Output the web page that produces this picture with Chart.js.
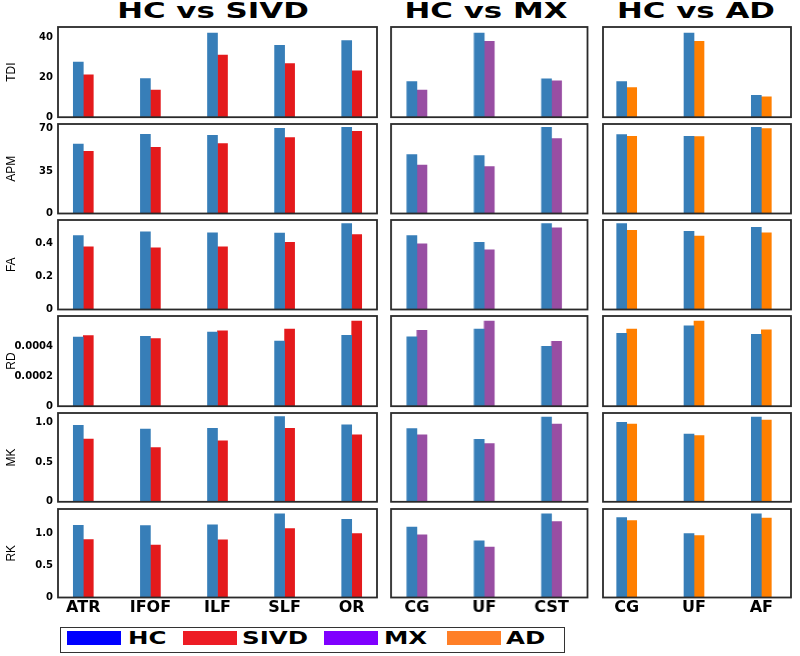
<!DOCTYPE html>
<html><head><meta charset="utf-8">
<script src="https://cdn.jsdelivr.net/npm/chart.js@4.4.1/dist/chart.umd.min.js"></script>
<style>
html,body{margin:0;padding:0;background:#fff}
body{width:800px;height:656px;position:relative;overflow:hidden}
.panel{position:absolute}
.title{position:absolute;top:0;width:300px;margin-left:-150px;text-align:center;font-family:"DejaVu Sans",sans-serif;font-weight:bold;font-size:21px;line-height:23px;color:#000;transform:scaleX(1.47);transform-origin:center}
#legend{position:absolute;left:60px;top:627px;width:505px;height:26px;border:1.5px solid #333;box-sizing:border-box}
.sw{position:absolute;top:3px;height:14px}
.lt{position:absolute;top:-1px;font-family:"DejaVu Sans",sans-serif;font-weight:bold;font-size:18px;line-height:22px;color:#000;transform:scaleX(1.36);transform-origin:left center;white-space:nowrap}
</style></head><body>
<div id="root"></div>
<script>
// ---------- data ----------
const sivdCats = ['ATR','IFOF','ILF','SLF','OR'];
const mxCats = ['CG','UF','CST'];
const adCats = ['CG','UF','AF'];
const metrics = ['TDI','APM','FA','RD','MK','RK'];
const groupTitles = ['HC vs SIVD','HC vs MX','HC vs AD'];
const seriesNames = ['HC','SIVD','MX','AD'];

// TDI
const hcSivdTDI = [27.5, 19.3, 42.0, 35.9, 38.2];
const sivdTDI   = [21.1, 13.5, 31.0, 26.7, 23.1];
const hcMxTDI   = [17.8, 42.0, 19.1];
const mxTDI     = [13.5, 37.9, 18.1];
const hcAdTDI   = [17.8, 42.0, 10.9];
const adTDI     = [14.8, 37.9, 10.2];
// APM
const hcSivdAPM = [57.5, 65.5, 64.7, 70.5, 71.3];
const sivdAPM   = [51.3, 54.7, 57.8, 62.8, 68.0];
const hcMxAPM   = [48.8, 47.8, 71.3];
const mxAPM     = [40.0, 38.8, 61.9];
const hcAdAPM   = [65.3, 63.8, 71.3];
const adAPM     = [63.8, 63.6, 70.3];
// FA
const hcSivdFA = [0.447, 0.470, 0.465, 0.463, 0.520];
const sivdFA   = [0.380, 0.374, 0.380, 0.407, 0.453];
const hcMxFA   = [0.447, 0.407, 0.520];
const mxFA     = [0.398, 0.362, 0.494];
const hcAdFA   = [0.520, 0.474, 0.498];
const adFA     = [0.480, 0.445, 0.465];
// RD
const hcSivdRD = [0.000460, 0.000465, 0.000493, 0.000434, 0.000471];
const sivdRD   = [0.000469, 0.000449, 0.000502, 0.000513, 0.000566];
const hcMxRD   = [0.000462, 0.000513, 0.000399];
const mxRD     = [0.000504, 0.000566, 0.000432];
const hcAdRD   = [0.000484, 0.000535, 0.000478];
const adRD     = [0.000513, 0.000566, 0.000508];
// MK
const hcSivdMK = [0.960, 0.913, 0.922, 1.069, 0.968];
const sivdMK   = [0.787, 0.682, 0.766, 0.922, 0.842];
const hcMxMK   = [0.918, 0.783, 1.064];
const mxMK     = [0.842, 0.732, 0.976];
const hcAdMK   = [0.997, 0.850, 1.064];
const adMK     = [0.976, 0.830, 1.026];
// RK
const hcSivdRK = [1.127, 1.122, 1.132, 1.303, 1.220];
const sivdRK   = [0.905, 0.817, 0.900, 1.076, 0.998];
const hcMxRK   = [1.100, 0.884, 1.303];
const mxRK     = [0.977, 0.786, 1.184];
const hcAdRK   = [1.246, 0.998, 1.303];
const adRK     = [1.200, 0.967, 1.240];

// y tick values / labels per metric
const tdiTicks = [0, 20, 40];        const tdiTickLabels = ['0','20','40'];
const apmTicks = [0, 35, 70];        const apmTickLabels = ['0','35','70'];
const faTicks  = [0, 0.2, 0.4];      const faTickLabels  = ['0','0.2','0.4'];
const rdTicks  = [0, 0.0002, 0.0004];const rdTickLabels  = ['0','0.0002','0.0004'];
const mkTicks  = [0, 0.5, 1.0];      const mkTickLabels  = ['0','0.5','1.0'];
const rkTicks  = [0, 0.5, 1.0];      const rkTickLabels  = ['0','0.5','1.0'];

// ---------- styling / layout ----------
const barColors = {HC:'#377EB8', SIVD:'#E41A1C', MX:'#984EA3', AD:'#FF7F00'};
const legendColors = {HC:'#0000FF', SIVD:'#ED1C24', MX:'#7F00FF', AD:'#FF7F27'};

const table = [
  [[hcSivdTDI, sivdTDI],[hcMxTDI, mxTDI],[hcAdTDI, adTDI]],
  [[hcSivdAPM, sivdAPM],[hcMxAPM, mxAPM],[hcAdAPM, adAPM]],
  [[hcSivdFA, sivdFA],[hcMxFA, mxFA],[hcAdFA, adFA]],
  [[hcSivdRD, sivdRD],[hcMxRD, mxRD],[hcAdRD, adRD]],
  [[hcSivdMK, sivdMK],[hcMxMK, mxMK],[hcAdMK, adMK]],
  [[hcSivdRK, sivdRK],[hcMxRK, mxRK],[hcAdRK, adRK]]
];
const tickTable = [[tdiTicks,tdiTickLabels],[apmTicks,apmTickLabels],[faTicks,faTickLabels],
                   [rdTicks,rdTickLabels],[mkTicks,mkTickLabels],[rkTicks,rkTickLabels]];
const colCats = [sivdCats, mxCats, adCats];
const colGroup = ['SIVD','MX','AD'];

const rowLayout = [
  {top:26.5, bottom:116.7, max:45},
  {top:123.5, bottom:213, max:74},
  {top:219.5, bottom:309, max:0.542},
  {top:315.5, bottom:405.7, max:0.0006},
  {top:412.7, bottom:501.5, max:1.115},
  {top:508.5, bottom:597, max:1.38}
];
const colLayout = [
  {left:58, right:377, min:0.623, max:5.377, titleX:213},
  {left:391, right:586.5, min:0.616, max:3.534, titleX:486},
  {left:603, right:791, min:0.648, max:3.441, titleX:696}
];

const framePlugin = {
  id:'frame',
  afterDatasetsDraw(chart){
    const {ctx, chartArea:a} = chart;
    ctx.save();
    ctx.strokeStyle = '#2a2a2a';
    ctx.lineWidth = 1.8;
    ctx.strokeRect(a.left, a.top, a.right - a.left, a.bottom - a.top);
    ctx.restore();
  }
};

const root = document.getElementById('root');

function makePanel(r, c){
  const col = colLayout[c], row = rowLayout[r];
  const isLeft = c === 0, isBottom = r === rowLayout.length - 1;
  const axisW = 58, axisH = 24;
  const padL = isLeft ? 0 : 3, padR = 3, padT = 3, padB = isBottom ? 0 : 3;
  const left = isLeft ? 0 : col.left - padL;
  const top = row.top - padT;
  const width = col.right + padR - left;
  const height = (row.bottom - row.top) + padT + (isBottom ? axisH : padB);
  const div = document.createElement('div');
  div.className = 'panel';
  div.style.left = left + 'px'; div.style.top = top + 'px';
  div.style.width = width + 'px'; div.style.height = height + 'px';
  const cv = document.createElement('canvas');
  div.appendChild(cv); root.appendChild(div);

  const cats = colCats[c];
  const [hcVals, grpVals] = table[r][c];
  const [tVals, tLabels] = tickTable[r];
  const grp = colGroup[c];

  new Chart(cv, {
    type:'bar',
    data:{datasets:[
      {label:'HC', data: hcVals.map((v,i)=>({x:i+1, y:v})), backgroundColor: barColors.HC, barThickness:10, borderWidth:0},
      {label:grp, data: grpVals.map((v,i)=>({x:i+1, y:v})), backgroundColor: barColors[grp], barThickness:10, borderWidth:0}
    ]},
    options:{
      responsive:true, maintainAspectRatio:false, animation:false,
      layout:{padding:{left:padL, right:padR, top:padT, bottom:padB}},
      plugins:{legend:{display:false}, tooltip:{enabled:false}, title:{display:false}},
      scales:{
        x:{
          type:'linear', offset:false, min:col.min, max:col.max, display:isBottom,
          grid:{display:false, drawTicks:false, offset:false}, border:{display:false},
          afterBuildTicks:(s)=>{ s.ticks = cats.map((_,i)=>({value:i+1})); },
          afterFit:(s)=>{ s.height = isBottom ? axisH : 0; s.paddingLeft = 0; s.paddingRight = 0; },
          ticks:{autoSkip:false, maxRotation:0, minRotation:0, padding:1, color:'#000',
                 font:{family:'"DejaVu Sans", sans-serif', weight:'bold', size:16},
                 callback:(v,i)=>cats[i]}
        },
        y:{
          min:0, max:row.max, display:isLeft,
          grid:{display:false, drawTicks:false}, border:{display:false},
          afterBuildTicks:(s)=>{ s.ticks = tVals.map(v=>({value:v})); },
          afterFit:(s)=>{ s.width = isLeft ? axisW : 0; s.paddingTop = 0; s.paddingBottom = 0; },
          ticks:{padding:5, color:'#000',
                 font:{family:'"DejaVu Sans", sans-serif', weight:'bold', size:10},
                 callback:(v,i)=>tLabels[i]},
          title:{display:true, text:metrics[r], color:'#000',
                 font:{family:'"Liberation Sans Narrow", "Liberation Sans", sans-serif', size:12},
                 padding:{top:4, bottom:0}}
        }
      }
    },
    plugins:[framePlugin]
  });
}

for (let r = 0; r < rowLayout.length; r++)
  for (let c = 0; c < colLayout.length; c++) makePanel(r, c);

// titles
groupTitles.forEach((t, c) => {
  const d = document.createElement('div');
  d.className = 'title';
  d.style.left = colLayout[c].titleX + 'px';
  d.textContent = t;
  root.appendChild(d);
});

// legend
const legend = document.createElement('div');
legend.id = 'legend';
const swLeft = [6, 122, 262.5, 385.5];
const txtLeft = [66.5, 181, 322.5, 444.5];
seriesNames.forEach((n, i) => {
  const s = document.createElement('div');
  s.className = 'sw';
  s.style.left = swLeft[i] + 'px';
  s.style.width = '54px';
  s.style.background = legendColors[n];
  legend.appendChild(s);
  const t = document.createElement('div');
  t.className = 'lt';
  t.style.left = txtLeft[i] + 'px';
  t.textContent = n;
  legend.appendChild(t);
});
root.appendChild(legend);
</script>
</body></html>
